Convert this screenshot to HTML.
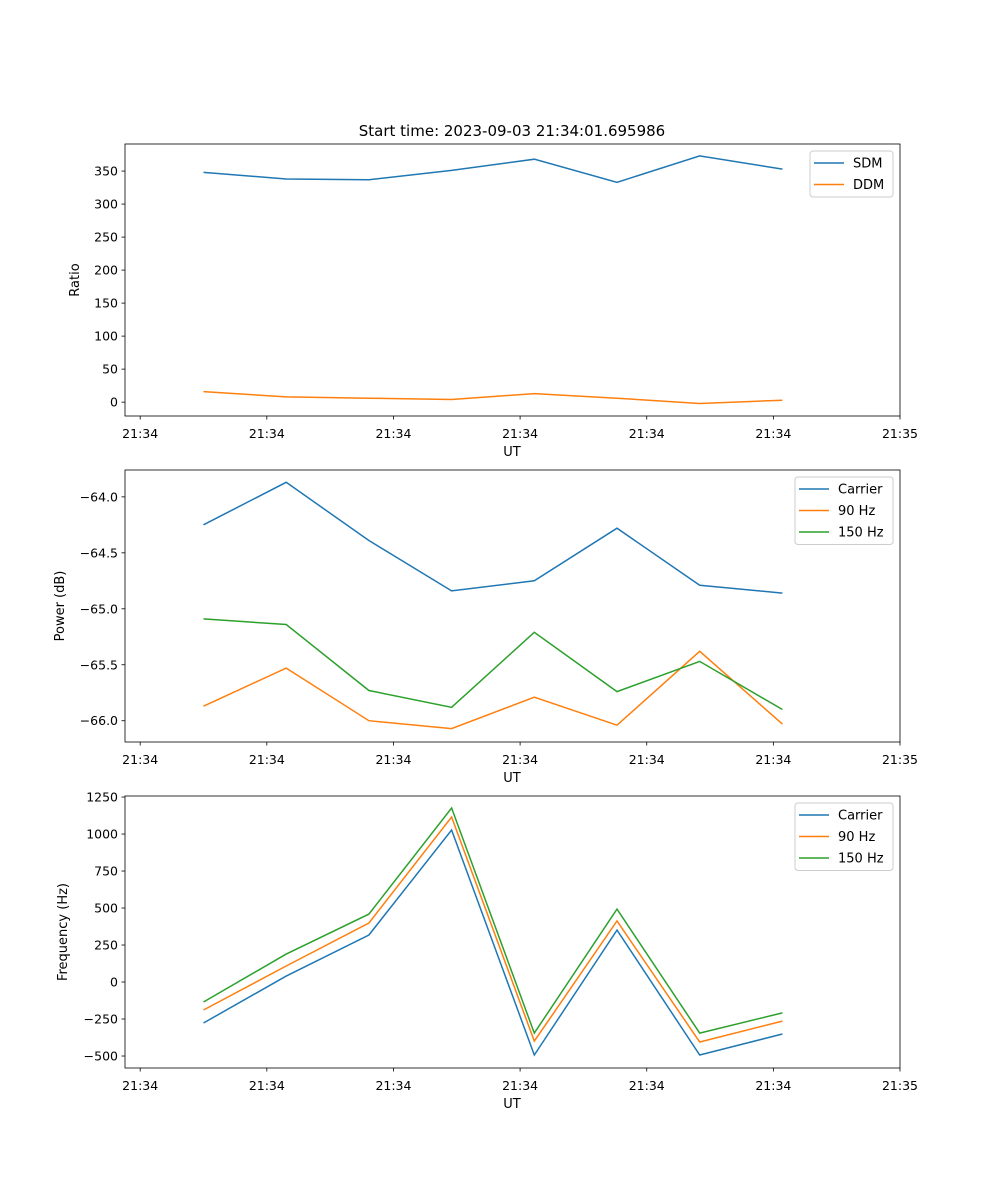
<!DOCTYPE html>
<html><head><meta charset="utf-8"><style>
body{margin:0;background:#fff}
svg{display:block;font-family:"DejaVu Sans","Liberation Sans",sans-serif}
</style></head><body>
<svg id="fig" width="1000" height="1200" xmlns="http://www.w3.org/2000/svg">
<text x="512" y="136" font-size="15" text-anchor="middle">Start time: 2023-09-03 21:34:01.695986</text>
</svg>
<script>
const times = [5.0, 11.53, 18.06, 24.59, 31.12, 37.65, 44.18, 50.71];
const xTicks = [0, 10, 20, 30, 40, 50, 60];
const xTickLabels = ["21:34","21:34","21:34","21:34","21:34","21:34","21:35"];
const sdm = [348, 338, 337, 351, 368, 333, 373, 353];
const ddm = [16, 8, 6, 4, 13, 6, -2, 3];
const powCarrier = [-64.25, -63.87, -64.39, -64.84, -64.75, -64.28, -64.79, -64.86];
const pow90 = [-65.87, -65.53, -66.0, -66.07, -65.79, -66.04, -65.38, -66.03];
const pow150 = [-65.09, -65.14, -65.73, -65.88, -65.21, -65.74, -65.47, -65.90];
const freqCarrier = [-277, 40, 318, 1027, -493, 351, -493, -351];
const freq90 = [-189, 108, 399, 1115, -399, 412, -405, -264];
const freq150 = [-135, 189, 459, 1176, -345, 493, -345, -209];
const ticks1 = [0, 50, 100, 150, 200, 250, 300, 350];
const ticks2 = [-66.0, -65.5, -65.0, -64.5, -64.0];
const ticks3 = [-500, -250, 0, 250, 500, 750, 1000, 1250];

const NS = "http://www.w3.org/2000/svg";
const svg = document.getElementById('fig');
const C = ['#1f77b4', '#ff7f0e', '#2ca02c'];
function mk(tag, attrs, parent) {
  const e = document.createElementNS(NS, tag);
  for (const k in attrs) e.setAttribute(k, attrs[k]);
  (parent || svg).appendChild(e);
  return e;
}
const L = 125, R = 900;
function xs(t) { return L + (t + 1.2) / 61.2 * (R - L); }

function panel(key, top, bot, ymin, ymax, ticks, fmt, ylabel, ylabelX, series, names, legendW) {
  const g = mk('g', {});
  
  
  const ys = v => bot - (v - ymin) / (ymax - ymin) * (bot - top);
  series.forEach((s, i) => {
    const p = mk('polyline', {points: s.map((v, j) => xs(times[j]).toFixed(1) + ',' + ys(v).toFixed(1)).join(' '), fill: 'none', stroke: C[i], 'stroke-width': 1.5}, g);
    
    
  });
  const fr = mk('rect', {x: L, y: top, width: R - L, height: bot - top, fill: 'none', stroke: '#000', 'stroke-width': 0.8}, g);
  
  
  ticks.forEach(v => {
    const y = ys(v);
    mk('line', {x1: L - 3.5, x2: L, y1: y, y2: y, stroke: '#000', 'stroke-width': 0.8}, g);
    const t = mk('text', {x: L - 7, y: y + 4.5, 'font-size': 12.5, 'text-anchor': 'end'}, g);
    t.textContent = fmt(v);
    
    
  });
  xTicks.forEach((v, i) => {
    const x = xs(v);
    mk('line', {x1: x, x2: x, y1: bot, y2: bot + 3.5, stroke: '#000', 'stroke-width': 0.8}, g);
    const t = mk('text', {x: x, y: bot + 22, 'font-size': 12.5, 'text-anchor': 'middle'}, g);
    t.textContent = xTickLabels[i];
    
    
  });
  const xl = mk('text', {x: 512, y: bot + 40, 'font-size': 13, 'text-anchor': 'middle'}, g);
  xl.textContent = 'UT';
  
  
  const cy = (top + bot) / 2;
  const yl = mk('text', {x: ylabelX, y: cy, 'font-size': 13, 'text-anchor': 'middle', transform: 'rotate(-90 ' + ylabelX + ' ' + cy + ')'}, g);
  yl.textContent = ylabel;
  
  
  const lx = 893 - legendW, ly = top + 7, h = 3 + names.length * 21.5;
  const lb = mk('rect', {x: lx, y: ly, width: legendW, height: h, rx: 3, fill: '#fff', 'fill-opacity': 0.8, stroke: '#ccc', 'stroke-width': 1}, g);
  
  
  names.forEach((n, i) => {
    const yy = ly + 12 + i * 21.5;
    mk('line', {x1: lx + 4, x2: lx + 34, y1: yy, y2: yy, stroke: C[i], 'stroke-width': 1.5}, g);
    const t = mk('text', {x: lx + 43, y: yy + 4.5, 'font-size': 13}, g);
    t.textContent = n;
    
    
  });
}
panel('ratio', 144, 416, -21, 391, ticks1, v => String(v), 'Ratio', 79, [sdm, ddm], ['SDM', 'DDM'], 83);
panel('power', 470, 742, -66.19, -63.76, ticks2, v => '\u2212' + Math.abs(v).toFixed(1), 'Power (dB)', 64, [powCarrier, pow90, pow150], ['Carrier', '90 Hz', '150 Hz'], 98);
panel('frequency', 796, 1068, -581, 1257, ticks3, v => (v < 0 ? '\u2212' : '') + Math.abs(v), 'Frequency (Hz)', 67, [freqCarrier, freq90, freq150], ['Carrier', '90 Hz', '150 Hz'], 98);
</script>
</body></html>
